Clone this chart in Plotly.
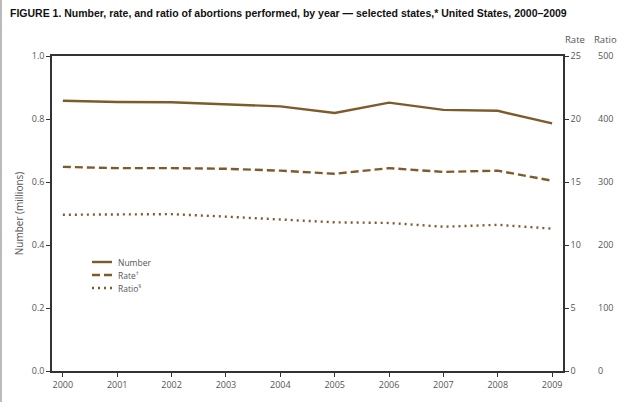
import plotly.graph_objects as go

years = [2000, 2001, 2002, 2003, 2004, 2005, 2006, 2007, 2008, 2009]
number_millions = [0.858, 0.854, 0.853, 0.846, 0.840, 0.819, 0.852, 0.829, 0.826, 0.786]
rate = [16.2, 16.1, 16.1, 16.05, 15.9, 15.65, 16.1, 15.8, 15.9, 15.1]
ratio = [248, 248, 249, 245, 241, 236, 235, 229, 232, 226]

series_names = ["Number", "Rate<sup>†</sup>", "Ratio<sup>§</sup>"]
series_dashes = ["solid", "8px,4px", "2px,4px"]

left_ticks = [0.0, 0.2, 0.4, 0.6, 0.8, 1.0]
rate_ticks = [0, 5, 10, 15, 20, 25]
ratio_ticks = [0, 100, 200, 300, 400, 500]

BROWN = "#7E5B2B"
AXIS = "#333333"
TXT = "#555555"
FONT = "Open Sans"

W, H = 630, 402
L, R, T, B = 52, 5, 56, 31
PW = W - L - R
PH = H - T - B

fig = go.Figure()
for vals, nm, dash, ax in zip([number_millions, rate, ratio], series_names, series_dashes, ["y", "y2", "y3"]):
    fig.add_trace(go.Scatter(x=years, y=vals, name=nm, mode="lines", showlegend=False,
                             line=dict(color=BROWN, width=2.4, dash=dash), yaxis=ax))

dom_end = (563 - L) / PW

fig.update_layout(
    width=W, height=H,
    margin=dict(l=L, r=R, t=T, b=B, autoexpand=False),
    paper_bgcolor="white", plot_bgcolor="white",
    font=dict(family=FONT, size=9, color=TXT),
    showlegend=False,
    xaxis=dict(domain=[0, dom_end], range=[1999.8, 2009.2], tickmode="array",
               tickvals=years, ticktext=[str(y) for y in years], automargin=False,
               ticks="outside", ticklen=4, tickcolor=AXIS, showline=True,
               linecolor=AXIS, linewidth=1.5, mirror=True, showgrid=False,
               zeroline=False, tickfont=dict(size=9, color=TXT)),
    yaxis=dict(range=[0, 1], tickmode="array", tickvals=left_ticks, automargin=False,
               ticktext=[f"{v:.1f}" for v in left_ticks],
               ticks="outside", ticklen=4, tickcolor=AXIS, showline=True,
               linecolor=AXIS, linewidth=1.5, showgrid=False, zeroline=False,
               title=dict(text="Number (millions)", font=dict(size=10, color=TXT), standoff=6),
               tickfont=dict(size=9, color=TXT)),
    yaxis2=dict(range=[0, 25], overlaying="y", side="right", anchor="x", automargin=False,
                tickmode="array", tickvals=rate_ticks,
                ticks="outside", ticklen=4, tickcolor=AXIS, showline=True,
                linecolor=AXIS, linewidth=1.5, showgrid=False, zeroline=False,
                tickfont=dict(size=9, color=TXT)),
    yaxis3=dict(range=[0, 500], overlaying="y", side="right", anchor="free", automargin=False,
                position=(597 - L) / PW, tickmode="array", tickvals=ratio_ticks,
                ticks="", showline=False, showgrid=False, zeroline=False,
                tickfont=dict(size=9, color=TXT)),
)

# title and right-axis headers
fig.add_annotation(text="<b>FIGURE 1. Number, rate, and ratio of abortions performed, by year — selected states,* United States, 2000–2009</b>",
                   xref="paper", yref="paper", x=(8 - L) / PW, y=1 + (T - 13) / PH,
                   xanchor="left", yanchor="middle", showarrow=False,
                   font=dict(family="Liberation Sans", size=10.5, color="#111111"))
fig.add_annotation(text="Rate", xref="paper", yref="paper", x=(575 - L) / PW, y=1 + (T - 40) / PH,
                   xanchor="center", yanchor="middle", showarrow=False, font=dict(size=9.5, color=TXT))
fig.add_annotation(text="Ratio", xref="paper", yref="paper", x=(605 - L) / PW, y=1 + (T - 40) / PH,
                   xanchor="center", yanchor="middle", showarrow=False, font=dict(size=9.5, color=TXT))

# legend key (compact, as in the reference)
for i, (nm, dash) in enumerate(zip(series_names, series_dashes)):
    ypix = 262 + 13 * i
    yp = (H - B - ypix) / PH
    fig.add_shape(type="line", xref="paper", yref="paper",
                  x0=(92 - L) / PW, x1=(112 - L) / PW, y0=yp, y1=yp,
                  line=dict(color=BROWN, width=2.4, dash=dash))
    fig.add_annotation(text=nm, xref="paper", yref="paper", x=(116 - L) / PW, y=yp,
                       xanchor="left", yanchor="middle", showarrow=False,
                       font=dict(size=8.5, color=TXT))

# light border at the left edge
fig.add_shape(type="line", xref="paper", yref="paper", x0=(1 - L) / PW, x1=(1 - L) / PW,
              y0=-B / PH, y1=1 + T / PH, line=dict(color="#BBBBBB", width=2))

fig.write_html("out.html", config={"displayModeBar": False},
               post_script="document.body.style.margin='0';")
